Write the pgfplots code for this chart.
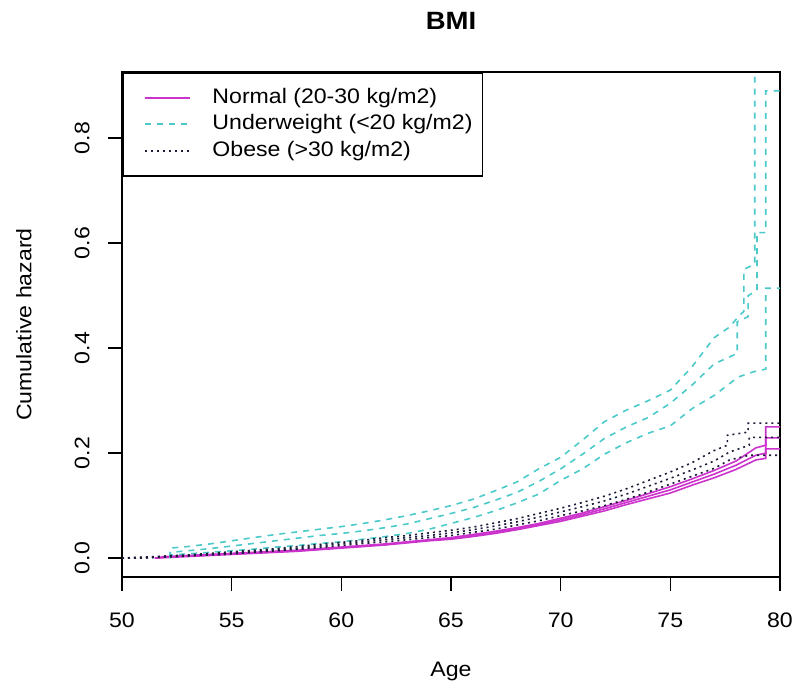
\documentclass[border=0pt]{standalone}
\usepackage{fontspec}
\setmainfont{Liberation Sans}[FakeStretch=1.1]
\usepackage{pgfplots}
\pgfplotsset{compat=1.18}
\definecolor{cNormal}{HTML}{CC33CC}
\definecolor{cUnder}{HTML}{4CCACA}
\definecolor{cObese}{HTML}{1C1C3A}
\newcommand\lbl{\fontsize{10.5bp}{12bp}\selectfont}

\begin{document}
\begin{tikzpicture}
\begin{axis}[
    at={(0,0)}, anchor=south west,
    scale only axis, width=329bp, height=252.5bp,
    xmin=50, xmax=80, ymin=-0.036, ymax=0.926,
    xtick={50,55,60,65,70,75,80},
    ytick={0,0.2,0.4,0.6,0.8},
    xtick pos=bottom, ytick pos=left,
    tick align=outside, major tick length=7bp,
    tick style={line width=0.8bp, black},
    axis line style={line width=0.9bp, black},
    /pgf/number format/assume math mode=true,
    xticklabel style={font=\lbl, inner sep=0pt},
    xticklabel shift=10.9bp,
    yticklabel style={font=\lbl, rotate=90, anchor=south, inner sep=0pt,
        /pgf/number format/fixed, /pgf/number format/fixed zerofill,
        /pgf/number format/precision=1},
    yticklabel shift=9bp,
    xlabel={Age},
    xlabel style={font=\lbl, at={(axis description cs:0.5,0)}, anchor=center, yshift=-47bp},
    ylabel={Cumulative hazard},
    every axis y label/.style={font=\lbl, at={(axis description cs:-0.149,0.5)}, anchor=center, rotate=90},
    title={BMI},
    every axis title/.style={font=\fontsize{12.5bp}{14bp}\selectfont\bfseries,
        at={(axis description cs:0.5,1.101)}, anchor=center},
    legend cell align=left,
    legend image code/.code={\path (0bp,0bp); \draw[#1, line width=0.9bp] (5.5bp,0bp) -- (28bp,0bp);},
    legend style={at={(0,1)}, anchor=north west, draw=black, line width=0.8bp, fill=white,
        inner xsep=5bp, inner ysep=5.8bp, row sep=0pt, font=\lbl,
        nodes={inner xsep=0pt, inner ysep=1.5bp, text height=7.9bp, text depth=2.4bp},
        /tikz/every odd column/.append style={column sep=11bp}},
    every axis plot/.append style={sharp plot, line width=0.8bp},
]
% Normal (20-30 kg/m2): estimate, upper, lower
\addplot[cNormal, solid] coordinates {
 (51.5,0) (52,0.002) (53,0.004) (54,0.006) (55,0.008) (56,0.010) (57,0.012) (58,0.014)
 (59,0.017) (60,0.020) (61,0.023) (62,0.026) (63,0.030) (64,0.034) (65,0.037) (66,0.043)
 (67,0.049) (68,0.056) (69,0.064) (70,0.073) (71,0.083) (72,0.094) (73,0.106) (74,0.118)
 (75,0.130) (76,0.145) (77,0.160) (78,0.177) (78.9,0.196) (79.35,0.200) (79.35,0.229) (80,0.229)};
\addlegendentry{Normal (20-30 kg/m2)}
\addplot[cNormal, solid, forget plot] coordinates {
 (51.5,0) (52,0.003) (53,0.005) (54,0.007) (55,0.009) (56,0.011) (57,0.013) (58,0.015)
 (59,0.018) (60,0.021) (61,0.024) (62,0.027) (63,0.031) (64,0.035) (65,0.039) (66,0.045)
 (67,0.051) (68,0.058) (69,0.066) (70,0.076) (71,0.086) (72,0.098) (73,0.110) (74,0.123)
 (75,0.136) (76,0.151) (77,0.167) (78,0.185) (78.9,0.210) (79.35,0.215) (79.35,0.250) (80,0.250)};
\addplot[cNormal, solid, forget plot] coordinates {
 (51.5,0) (52,0.001) (53,0.003) (54,0.005) (55,0.007) (56,0.009) (57,0.011) (58,0.013)
 (59,0.016) (60,0.019) (61,0.022) (62,0.025) (63,0.029) (64,0.033) (65,0.036) (66,0.041)
 (67,0.047) (68,0.054) (69,0.062) (70,0.070) (71,0.080) (72,0.090) (73,0.102) (74,0.113)
 (75,0.124) (76,0.139) (77,0.153) (78,0.169) (78.9,0.187) (79.35,0.190) (79.35,0.208) (80,0.208)};
% Underweight (<20 kg/m2)
\addplot[cUnder, dash pattern=on 3bp off 3bp] coordinates {
 (52.2,0) (52.2,0.011) (53,0.014) (54,0.018) (55,0.023) (56,0.028) (57,0.033) (58,0.038)
 (59,0.043) (60,0.047) (61,0.052) (62,0.058) (63,0.065) (64,0.075) (65,0.085) (66,0.096)
 (67,0.110) (68,0.125) (69,0.146) (70,0.170) (71,0.198) (72,0.228) (73,0.250) (74,0.268)
 (75,0.295) (76,0.330) (77,0.370) (78.05,0.390) (78.05,0.450) (78.55,0.460) (78.55,0.500)
 (78.95,0.510) (78.95,0.620) (79.35,0.620) (79.35,0.890) (80,0.890)};
\addlegendentry{Underweight (<20 kg/m2)}
\addplot[cUnder, dash pattern=on 3bp off 3bp, forget plot] coordinates {
 (52.2,0) (52.2,0.019) (53,0.022) (54,0.027) (55,0.033) (56,0.039) (57,0.045) (58,0.050)
 (59,0.055) (60,0.060) (61,0.066) (62,0.073) (63,0.081) (64,0.090) (65,0.100) (66,0.112)
 (67,0.128) (68,0.145) (69,0.170) (70,0.192) (71,0.225) (72,0.260) (73,0.282) (74,0.300)
 (75,0.320) (76,0.365) (77,0.420) (77.7,0.440) (78.1,0.460) (78.35,0.470) (78.35,0.550)
 (78.85,0.560) (78.85,1.500)};
\addplot[cUnder, dash pattern=on 3bp off 3bp, forget plot] coordinates {
 (52.2,0) (52.2,0.006) (53,0.008) (54,0.011) (55,0.014) (56,0.017) (57,0.021) (58,0.024)
 (59,0.028) (60,0.031) (61,0.036) (62,0.041) (63,0.047) (64,0.055) (65,0.066) (66,0.077)
 (67,0.090) (68,0.105) (69,0.122) (70,0.148) (71,0.170) (72,0.198) (73,0.220) (74,0.238)
 (75,0.252) (76,0.285) (77,0.310) (78.1,0.345) (78.8,0.355) (79.35,0.360) (79.35,0.514) (80,0.514)};
% Obese (>30 kg/m2)
\addplot[cObese, dash pattern=on 1bp off 2bp] coordinates {
 (50,0) (51,0.001) (52,0.003) (53,0.005) (54,0.007) (55,0.010) (56,0.013) (57,0.016)
 (58,0.019) (59,0.023) (60,0.027) (61,0.031) (62,0.035) (63,0.039) (64,0.043) (65,0.048)
 (66,0.054) (67,0.061) (68,0.069) (69,0.078) (70,0.088) (71,0.098) (72,0.109) (73,0.122)
 (74,0.137) (75,0.152) (76,0.168) (77,0.185) (77.7,0.202) (78.6,0.215) (78.6,0.230) (80,0.230)};
\addlegendentry{Obese (>30 kg/m2)}
\addplot[cObese, dash pattern=on 1bp off 2bp, forget plot] coordinates {
 (50,0) (51,0.002) (52,0.004) (53,0.006) (54,0.009) (55,0.012) (56,0.015) (57,0.018)
 (58,0.022) (59,0.026) (60,0.030) (61,0.034) (62,0.039) (63,0.043) (64,0.048) (65,0.053)
 (66,0.059) (67,0.067) (68,0.075) (69,0.085) (70,0.095) (71,0.106) (72,0.118) (73,0.132)
 (74,0.148) (75,0.164) (76,0.182) (77,0.205) (77.6,0.215) (77.6,0.234) (78.55,0.240)
 (78.55,0.257) (80,0.257)};
\addplot[cObese, dash pattern=on 1bp off 2bp, forget plot] coordinates {
 (50,0) (51,0.000) (52,0.002) (53,0.004) (54,0.006) (55,0.008) (56,0.011) (57,0.014)
 (58,0.017) (59,0.020) (60,0.024) (61,0.028) (62,0.031) (63,0.035) (64,0.039) (65,0.043)
 (66,0.049) (67,0.055) (68,0.063) (69,0.071) (70,0.081) (71,0.090) (72,0.100) (73,0.112)
 (74,0.126) (75,0.141) (76,0.156) (77,0.171) (77.7,0.187) (78.6,0.196) (80,0.196)};
\end{axis}
\pgfresetboundingbox
\useasboundingbox (-61bp,-54.5bp) rectangle (337bp,288.5bp);
\end{tikzpicture}
\end{document}
